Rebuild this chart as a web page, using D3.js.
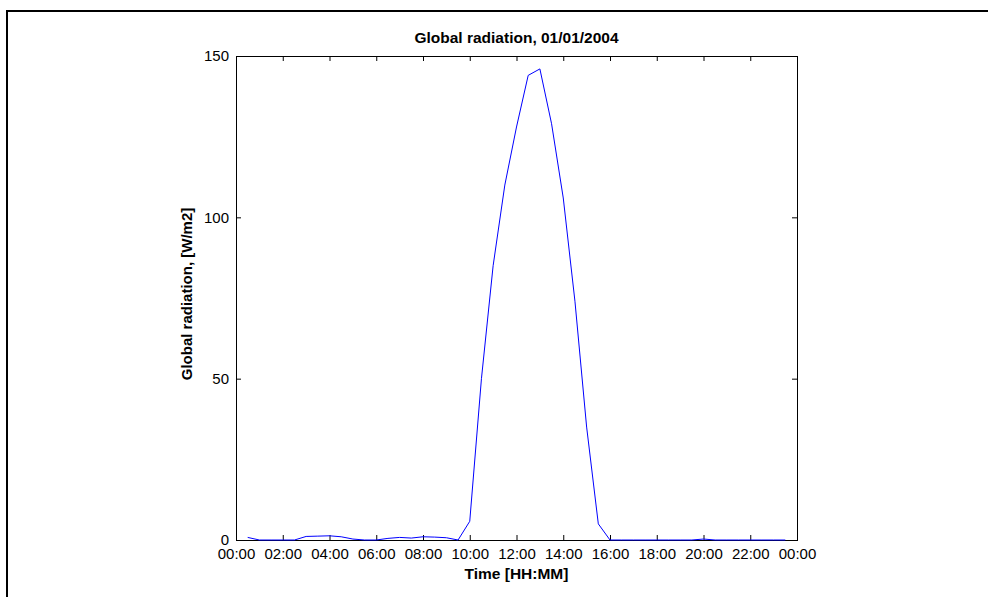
<!DOCTYPE html>
<html>
<head>
<meta charset="utf-8">
<script src="https://cdn.jsdelivr.net/npm/d3@7"></script>
<style>
  html, body { margin: 0; padding: 0; background: #fff; }
  svg { display: block; }
  text { font-family: Arial, "Liberation Sans", sans-serif; fill: #000; }
</style>
</head>
<body>
<svg id="chart" width="988" height="597"></svg>
<script>
// ---- data ----
const chartTitle = "Global radiation, 01/01/2004";
const xTitle = "Time [HH:MM]";
const yTitle = "Global radiation, [W/m2]";

const timeHours = [0.5, 1, 1.5, 2, 2.5, 3, 3.5, 4, 4.5, 5, 5.5, 6, 6.5, 7, 7.5, 8, 8.5, 9, 9.5,
  10, 10.5, 11, 11.5, 12, 12.5, 13, 13.5, 14, 14.5, 15, 15.5, 16, 16.5, 17, 17.5, 18, 18.5,
  19, 19.5, 20, 20.5, 21, 21.5, 22, 22.5, 23, 23.5];
const radiation = [0.8, 0, 0, 0, 0, 1.1, 1.2, 1.3, 1.0, 0.3, 0, 0, 0.5, 0.8, 0.6, 1.0, 0.9, 0.7, 0,
  5.8, 50, 85, 110, 128, 144, 146, 129, 106, 74, 35, 5, 0, 0, 0, 0, 0, 0,
  0, 0, 0.3, 0, 0, 0, 0, 0, 0, 0];

const xTickValues = [0, 2, 4, 6, 8, 10, 12, 14, 16, 18, 20, 22, 24];
const xTickLabels = ["00:00", "02:00", "04:00", "06:00", "08:00", "10:00", "12:00",
  "14:00", "16:00", "18:00", "20:00", "22:00", "00:00"];
const yTickValues = [0, 50, 100, 150];

(function () {
  const svg = d3.select("#chart");
  const pL = 236, pR = 797, pT = 56, pB = 540;

  const x = d3.scaleLinear().domain([0, 24]).range([pL, pR]);
  const y = d3.scaleLinear().domain([0, 150]).range([pB, pT]);

  // outer figure border (top and left edges)
  svg.append("path")
    .attr("d", "M7,597 L7,11 L988,11")
    .attr("fill", "none").attr("stroke", "#000").attr("stroke-width", 2);

  const gx = svg.append("g").attr("transform", `translate(0,${pB})`)
    .call(d3.axisBottom(x).tickValues(xTickValues)
      .tickFormat((d, i) => xTickLabels[i]).tickSizeInner(-5).tickSizeOuter(0).tickPadding(8));
  const gxt = svg.append("g").attr("transform", `translate(0,${pT})`)
    .call(d3.axisTop(x).tickValues(xTickValues).tickFormat("").tickSizeInner(-5).tickSizeOuter(0));
  const gy = svg.append("g").attr("transform", `translate(${pL},0)`)
    .call(d3.axisLeft(y).tickValues(yTickValues).tickSizeInner(-5).tickSizeOuter(0).tickPadding(7));
  const gyr = svg.append("g").attr("transform", `translate(${pR},0)`)
    .call(d3.axisRight(y).tickValues(yTickValues).tickFormat("").tickSizeInner(-5).tickSizeOuter(0));

  [gx, gxt, gy, gyr].forEach(g => {
    g.select(".domain").remove();
    g.selectAll(".tick line").attr("stroke", "#000");
    g.selectAll("text").attr("font-size", 15).attr("font-family", "Arial, 'Liberation Sans', sans-serif");
  });

  // plot box
  svg.append("rect")
    .attr("x", pL + 0.5).attr("y", pT + 0.5)
    .attr("width", pR - pL).attr("height", pB - pT)
    .attr("fill", "none").attr("stroke", "#000").attr("stroke-width", 1);

  // data line
  const line = d3.line().x((d, i) => x(timeHours[i])).y(d => y(d));
  svg.append("path")
    .datum(radiation)
    .attr("d", line)
    .attr("fill", "none")
    .attr("stroke", "#0000ff")
    .attr("stroke-width", 1);

  // titles
  svg.append("text")
    .attr("x", (pL + pR) / 2).attr("y", 43)
    .attr("text-anchor", "middle").attr("font-weight", "bold").attr("font-size", 15.5)
    .text(chartTitle);

  svg.append("text")
    .attr("x", (pL + pR) / 2).attr("y", 579)
    .attr("text-anchor", "middle").attr("font-weight", "bold").attr("font-size", 15.5)
    .text(xTitle);

  svg.append("text")
    .attr("transform", `translate(192,${(pT + pB) / 2 - 4}) rotate(-90)`)
    .attr("text-anchor", "middle").attr("font-weight", "bold").attr("font-size", 15)
    .text(yTitle);
})();
</script>
</body>
</html>
